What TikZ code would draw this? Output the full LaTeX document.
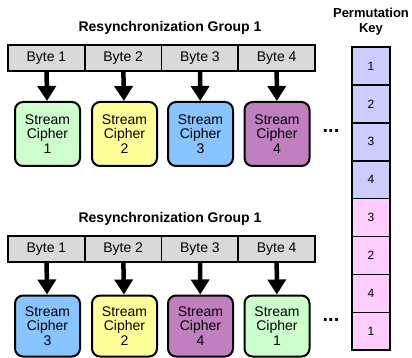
\documentclass[tikz,border=0pt]{standalone}
\usepackage{fontspec}
\setmainfont{Liberation Sans}
\usetikzlibrary{shapes,arrows.meta,positioning}
\definecolor{cgreen}{RGB}{204,255,204}
\definecolor{cyellow}{RGB}{255,255,153}
\definecolor{cblue}{RGB}{136,196,255}
\definecolor{cpurple}{RGB}{192,128,192}
\definecolor{klav}{RGB}{204,204,255}
\definecolor{kpink}{RGB}{255,204,255}
\tikzstyle{line} = [draw, line width=4.5pt, -{Triangle[width=18pt,length=15pt]}]

\begin{document}
\begin{tikzpicture}[x=1pt,y=-1pt]
\tikzstyle{byte} = [draw, line width=1.6pt, fill=gray!30, outer sep=0pt,
  minimum width=76.75pt, minimum height=26pt, font=\fontsize{14}{16}\selectfont]
\tikzstyle{cipher} = [draw, line width=2pt, rounded corners=8pt,
  minimum width=65pt, align=center, font=\fontsize{14}{14.5}\selectfont]
\tikzstyle{key} = [draw, line width=1.6pt, outer sep=0pt,
  minimum width=38pt, minimum height=37.9pt, font=\fontsize{12}{14}\selectfont]
\tikzstyle{title} = [font=\bfseries\fontsize{14}{16}\selectfont]
\tikzstyle{dots} = [font=\bfseries\fontsize{20}{20}\selectfont]
\useasboundingbox (0,0) rectangle (412,358);

% group 1
\node[title] (t1) at (170,28) {Resynchronization Group 1};
\node[byte] (b1) at (46.4,58) {Byte 1};
\node[byte,right=0pt of b1] (b2) {Byte 2};
\node[byte,right=0pt of b2] (b3) {Byte 3};
\node[byte,right=0pt of b3] (b4) {Byte 4};
\node[cipher,fill=cgreen,minimum height=64pt] (c1) at (47.5,134) {Stream\\Cipher\\1};
\node[cipher,fill=cyellow,minimum height=64pt] (c2) at (124.5,134) {Stream\\Cipher\\2};
\node[cipher,fill=cblue,minimum height=64pt] (c3) at (200.5,134) {Stream\\Cipher\\3};
\node[cipher,fill=cpurple,minimum height=64pt] (c4) at (277,134) {Stream\\Cipher\\4};
\node[dots] (d1) at (331,131) {...};
\path [line] (b1) -- (c1);
\path [line] (b2) -- (c2);
\path [line] (b3) -- (c3);
\path [line] (b4) -- (c4);

% group 2
\node[title] (t2) at (170,219) {Resynchronization Group 1};
\node[byte] (b5) at (46.4,249) {Byte 1};
\node[byte,right=0pt of b5] (b6) {Byte 2};
\node[byte,right=0pt of b6] (b7) {Byte 3};
\node[byte,right=0pt of b7] (b8) {Byte 4};
\node[cipher,fill=cblue,minimum height=61pt] (c5) at (47.5,326) {Stream\\Cipher\\3};
\node[cipher,fill=cyellow,minimum height=61pt] (c6) at (124.5,326) {Stream\\Cipher\\2};
\node[cipher,fill=cpurple,minimum height=61pt] (c7) at (200.5,326) {Stream\\Cipher\\4};
\node[cipher,fill=cgreen,minimum height=61pt] (c8) at (277,326) {Stream\\Cipher\\1};
\node[dots] (d2) at (331,320) {...};
\path [line] (b5) -- (c5);
\path [line] (b6) -- (c6);
\path [line] (b7) -- (c7);
\path [line] (b8) -- (c8);

% permutation key
\node[title,align=center,font=\bfseries\fontsize{13}{15}\selectfont] (pk) at (371,22) {Permutation\\Key};
\node[key,fill=klav] (k1) at (371,66) {1};
\node[key,fill=klav,below=0pt of k1] (k2) {2};
\node[key,fill=klav,below=0pt of k2] (k3) {3};
\node[key,fill=klav,below=0pt of k3] (k4) {4};
\node[key,fill=kpink,below=0pt of k4] (k5) {3};
\node[key,fill=kpink,below=0pt of k5] (k6) {2};
\node[key,fill=kpink,below=0pt of k6] (k7) {4};
\node[key,fill=kpink,below=0pt of k7] (k8) {1};
\end{tikzpicture}
\end{document}
